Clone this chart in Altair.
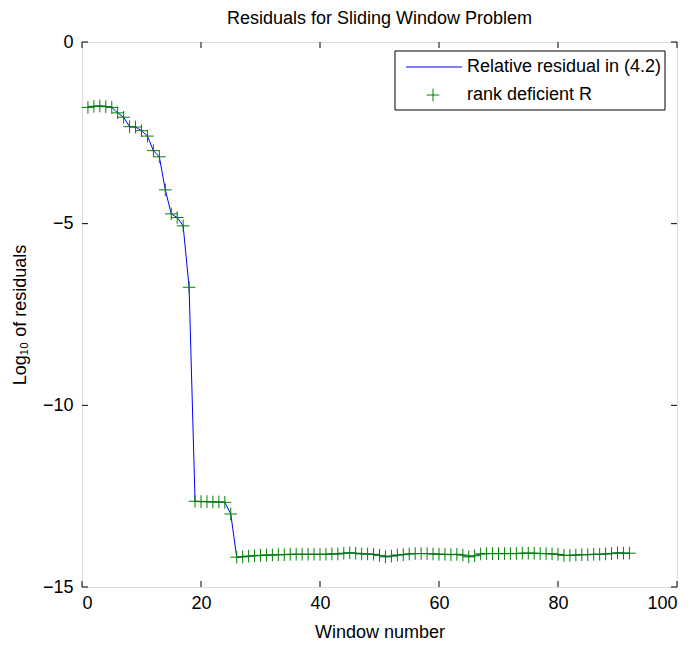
import altair as alt
import pandas as pd

# ---- data ----
window = list(range(1, 93))
residual = [
    -1.80, -1.77, -1.76, -1.78, -1.80, -1.95, -2.07, -2.33, -2.34, -2.44,
    -2.59, -2.99, -3.16, -4.07, -4.73, -4.83, -5.06, -6.75, -12.64, -12.65,
    -12.65, -12.66, -12.66, -12.67, -12.99, -14.18, -14.17, -14.15, -14.14, -14.13,
    -14.12, -14.12, -14.11, -14.11, -14.10, -14.10, -14.10, -14.10, -14.10, -14.10,
    -14.10, -14.09, -14.09, -14.07, -14.06, -14.07, -14.09, -14.09, -14.10, -14.13,
    -14.17, -14.15, -14.12, -14.11, -14.09, -14.08, -14.08, -14.08, -14.09, -14.10,
    -14.10, -14.11, -14.10, -14.12, -14.17, -14.14, -14.09, -14.08, -14.08, -14.08,
    -14.08, -14.08, -14.08, -14.07, -14.07, -14.07, -14.08, -14.08, -14.09, -14.10,
    -14.13, -14.13, -14.12, -14.11, -14.11, -14.10, -14.10, -14.09, -14.08, -14.06,
    -14.07, -14.07,
]
x_ticks = [0, 20, 40, 60, 80, 100]
y_ticks = [0, -5, -10, -15]
legend_labels = ["Relative residual in (4.2)", "rank deficient R"]

W, H = 595, 545
FONT = "Liberation Sans"
FS = 18
CROSS = "M-1,0L1,0M0,-1L0,1"

df = pd.DataFrame({"window": window, "residual": residual})
xt = pd.DataFrame({"t": x_ticks})
yt = pd.DataFrame({"t": y_ticks})

xscale = alt.Scale(domain=[0, 100], nice=False, zero=False)
yscale = alt.Scale(domain=[-15, 0], nice=False, zero=False)

xaxis = alt.Axis(values=x_ticks, tickSize=0, domain=False, grid=False,
                 labelFontSize=FS, labelFont=FONT, labelColor="black", labelPadding=7,
                 title="Window number", titleFontSize=FS, titleFont=FONT,
                 titleFontWeight="normal", titleColor="black", titlePadding=11)
yaxis = alt.Axis(values=y_ticks, tickSize=0, domain=False, grid=False,
                 labelFontSize=FS, labelFont=FONT, labelColor="black", labelPadding=9,
                 title="Log\u2081\u2080 of residuals", titleFontSize=FS, titleFont=FONT,
                 titleFontWeight="normal", titleColor="black", titlePadding=13)

line = alt.Chart(df).mark_line(color="#0000ff", strokeWidth=1).encode(
    x=alt.X("window:Q", scale=xscale, axis=xaxis),
    y=alt.Y("residual:Q", scale=yscale, axis=yaxis),
)
pts = alt.Chart(df).mark_point(shape=CROSS, size=160, filled=False,
                               color="#008000", strokeWidth=1, opacity=1).encode(
    x=alt.X("window:Q", scale=xscale),
    y=alt.Y("residual:Q", scale=yscale),
)

# inward tick marks (MATLAB style), on all four sides
xb = alt.Chart(xt).mark_rule(color="black", strokeWidth=1).encode(
    x=alt.X("t:Q", scale=xscale), y=alt.value(H), y2=alt.value(H - 6))
xtp = alt.Chart(xt).mark_rule(color="black", strokeWidth=1).encode(
    x=alt.X("t:Q", scale=xscale), y=alt.value(0), y2=alt.value(6))
yl = alt.Chart(yt).mark_rule(color="black", strokeWidth=1).encode(
    y=alt.Y("t:Q", scale=yscale), x=alt.value(0), x2=alt.value(6))
yr = alt.Chart(yt).mark_rule(color="black", strokeWidth=1).encode(
    y=alt.Y("t:Q", scale=yscale), x=alt.value(W), x2=alt.value(W - 6))

# legend box
one = alt.Data(values=[{"a": 1}])
lbox = alt.Chart(one).mark_rect(fill="white", stroke="black", strokeWidth=1).encode(
    x=alt.value(313), x2=alt.value(583), y=alt.value(9), y2=alt.value(68))
lline = alt.Chart(one).mark_rule(color="#0000ff", strokeWidth=1).encode(
    x=alt.value(324), x2=alt.value(380), y=alt.value(25))
lpt = alt.Chart(one).mark_point(shape=CROSS, size=160, filled=False,
                                color="#008000", strokeWidth=1, opacity=1).encode(
    x=alt.value(351), y=alt.value(53))
ltxt1 = alt.Chart(one).mark_text(text=legend_labels[0], align="left", baseline="middle",
                                 font=FONT, fontSize=FS, color="black").encode(
    x=alt.value(385), y=alt.value(25))
ltxt2 = alt.Chart(one).mark_text(text=legend_labels[1], align="left", baseline="middle",
                                 font=FONT, fontSize=FS, color="black").encode(
    x=alt.value(385), y=alt.value(53))

chart = alt.layer(line, pts, xb, xtp, yl, yr, lbox, lline, lpt, ltxt1, ltxt2).properties(
    width=W, height=H,
    title=alt.TitleParams("Residuals for Sliding Window Problem", font=FONT, fontSize=FS,
                          fontWeight="normal", color="black", anchor="middle", offset=5),
    autosize=alt.AutoSizeParams(type="none"),
    padding={"left": 74, "top": 34, "right": 8, "bottom": 58},
).configure_view(stroke="black", strokeWidth=1.5).configure(background="white")

chart.save("out.html", embed_options={"renderer": "svg", "actions": False})
